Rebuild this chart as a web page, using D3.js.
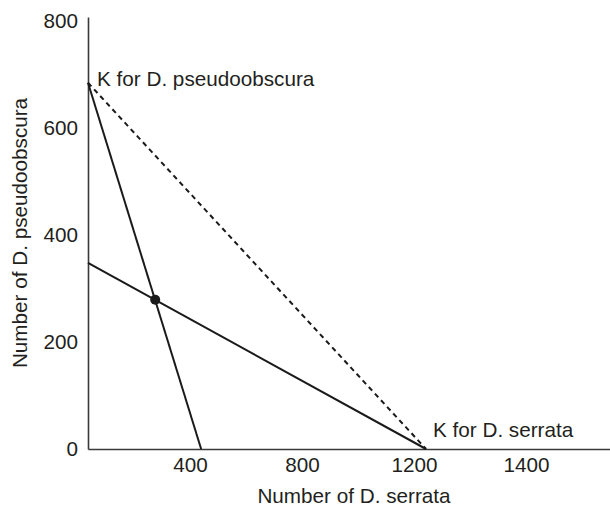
<!DOCTYPE html>
<html>
<head>
<meta charset="utf-8">
<script src="https://cdn.jsdelivr.net/npm/d3@7"></script>
<style>
  body { margin: 0; background: #fff; }
  text { font-family: "Liberation Sans", Arial, Helvetica, sans-serif; fill: #231f20; }
</style>
</head>
<body>
<svg id="chart"></svg>
<script>
const width = 610, height = 507;

// values
const xTickValues = [400, 800, 1200, 1600];
const xTickLabels = ["400", "800", "1200", "1400"];   // the original prints 1400 at the last mark
const yTickValues = [0, 200, 400, 600, 800];

const kPseudo = 685;      // K for D. pseudoobscura (on the y axis)
const kSerrata = 1207;    // K for D. serrata (on the x axis)
const pseudoIsocline = [[0, 685], [404, 0]];   // steep line
const serrataIsocline = [[0, 348], [1207, 0]]; // shallow line
const kLine = [[0, kPseudo], [kSerrata, 0]];   // dashed line
const equilibrium = [[240, 279]];

const svg = d3.select("#chart")
    .attr("width", width)
    .attr("height", height);

// scales
const x = d3.scaleLinear().domain([0, 1864]).range([88, 610]);
const y = d3.scaleLinear().domain([0, 808]).range([449, 17]);

const line = d3.line().x(d => x(d[0])).y(d => y(d[1]));

// axes: plain lines, no tick marks
const xAxis = svg.append("g")
    .attr("transform", `translate(0,${y(0)})`)
    .call(d3.axisBottom(x)
        .tickValues(xTickValues)
        .tickFormat((d, i) => xTickLabels[i])
        .tickSize(0)
        .tickSizeOuter(0)
        .tickPadding(8));

const yAxis = svg.append("g")
    .attr("transform", `translate(${x(0)},0)`)
    .call(d3.axisLeft(y)
        .tickValues(yTickValues)
        .tickSize(0)
        .tickSizeOuter(0)
        .tickPadding(10));

[xAxis, yAxis].forEach(g => {
    g.select(".domain").attr("stroke", "#3a3a3a").attr("stroke-width", 1.6);
    g.selectAll("text")
        .attr("fill", "#231f20")
        .style("font-size", "20.7px")
        .style("font-family", "'Liberation Sans', Arial, sans-serif");
});
xAxis.selectAll("text").attr("dx", "-10");

// isoclines
svg.append("path")
    .datum(pseudoIsocline)
    .attr("d", line)
    .attr("fill", "none")
    .attr("stroke", "#1a1a1a")
    .attr("stroke-width", 2);

svg.append("path")
    .datum(serrataIsocline)
    .attr("d", line)
    .attr("fill", "none")
    .attr("stroke", "#1a1a1a")
    .attr("stroke-width", 2);

svg.append("path")
    .datum(kLine)
    .attr("d", line)
    .attr("fill", "none")
    .attr("stroke", "#1a1a1a")
    .attr("stroke-width", 2)
    .attr("stroke-dasharray", "5,4");

// equilibrium point
svg.selectAll("circle.eq")
    .data(equilibrium)
    .join("circle")
    .attr("class", "eq")
    .attr("cx", d => x(d[0]))
    .attr("cy", d => y(d[1]))
    .attr("r", 5)
    .attr("fill", "#1a1a1a");

// labels on the carrying capacities
svg.append("text")
    .attr("x", x(0) + 9)
    .attr("y", y(kPseudo) + 3)
    .style("font-size", "20.7px")
    .text("K for D. pseudoobscura");

svg.append("text")
    .attr("x", x(kSerrata) + 7)
    .attr("y", y(0) - 12)
    .style("font-size", "20.7px")
    .text("K for D. serrata");

// axis titles
svg.append("text")
    .attr("x", 354)
    .attr("y", 503)
    .attr("text-anchor", "middle")
    .style("font-size", "20.7px")
    .text("Number of D. serrata");

svg.append("text")
    .attr("transform", `translate(27,${(y(0) + y(808)) / 2}) rotate(-90)`)
    .attr("text-anchor", "middle")
    .style("font-size", "20.7px")
    .text("Number of D. pseudoobscura");
</script>
</body>
</html>
